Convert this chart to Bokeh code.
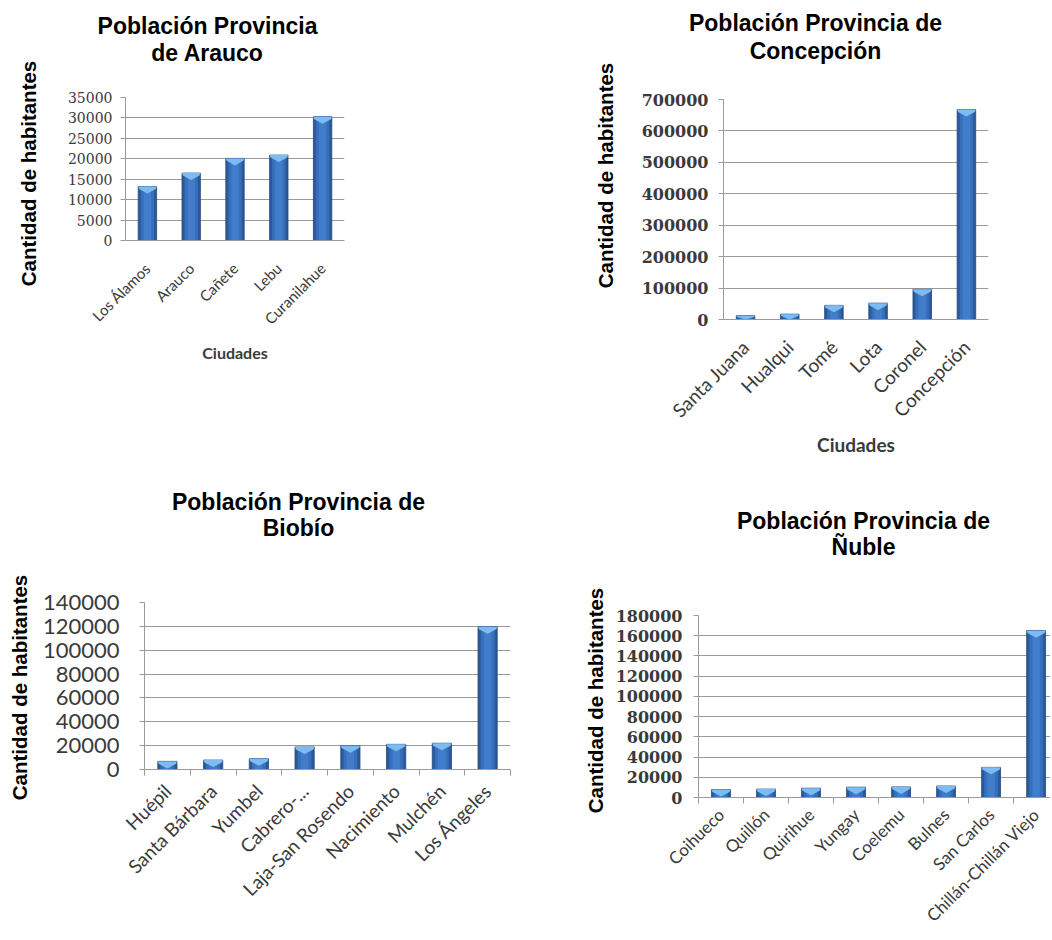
import numpy as np
from math import pi
from bokeh.plotting import figure
from bokeh.models import Range1d, FixedTicker, ColumnDataSource, NumeralTickFormatter
from bokeh.core.properties import value
from bokeh.layouts import column, row
from bokeh.embed import file_html
from bokeh.resources import INLINE

# ---------------- data ----------------
arauco_title = ["Población Provincia", "de Arauco"]
arauco_cities = ["Los Álamos", "Arauco", "Cañete", "Lebu", "Curanilahue"]
arauco_pop = [13200, 16500, 20100, 20900, 30300]
arauco_ticks = [0, 5000, 10000, 15000, 20000, 25000, 30000, 35000]

concepcion_title = ["Población Provincia de", "Concepción"]
concepcion_cities = ["Santa Juana", "Hualqui", "Tomé", "Lota", "Coronel", "Concepción"]
concepcion_pop = [12000, 17000, 45000, 52000, 96000, 668000]
concepcion_ticks = [0, 100000, 200000, 300000, 400000, 500000, 600000, 700000]

biobio_title = ["Población Provincia de", "Biobío"]
biobio_cities = ["Huépil", "Santa Bárbara", "Yumbel", "Cabrero-...", "Laja-San Rosendo",
                 "Nacimiento", "Mulchén", "Los Ángeles"]
biobio_pop = [6800, 7900, 9000, 18900, 20000, 21100, 22000, 119700]
biobio_ticks = [0, 20000, 40000, 60000, 80000, 100000, 120000, 140000]

nuble_title = ["Población Provincia de", "Ñuble"]
nuble_cities = ["Coihueco", "Quillón", "Quirihue", "Yungay", "Coelemu", "Bulnes",
                "San Carlos", "Chillán-Chillán Viejo"]
nuble_pop = [7900, 8300, 9200, 10200, 10500, 11400, 29800, 165000]
nuble_ticks = [0, 20000, 40000, 60000, 80000, 100000, 120000, 140000, 160000, 180000]

y_label = "Cantidad de habitantes"
x_label = "Ciudades"

GRID = "#9a9a9a"


def blank_fig(W, H):
    f = figure(width=W, height=H, x_range=Range1d(0, W), y_range=Range1d(0, H),
               output_backend="svg", toolbar_location=None, min_border=0,
               x_axis_location=None, y_axis_location=None, title=None)
    f.grid.visible = False
    f.outline_line_color = None
    f.background_fill_color = "white"
    f.border_fill_color = "white"
    return f


def make_chart(cities, pop, ticks, c, W, H):
    n = len(cities)
    xs = list(range(n))
    xend = c.get("xend", n - 0.5)
    p = figure(width=W, height=H, title=None,
               x_range=Range1d(-0.5, xend), y_range=Range1d(0, ticks[-1]),
               output_backend="svg", toolbar_location=None,
               min_border_left=c["bl"], min_border_right=c["br"],
               min_border_top=c["bt"], min_border_bottom=H - c["bt"] - c["fh"])
    p.outline_line_color = None
    p.background_fill_color = "white"
    p.border_fill_color = "white"

    # bars
    w = 0.42
    d = ticks[-1] * 7.0 / c["fh"]
    src = ColumnDataSource(dict(x=xs, top=pop))
    p.vbar(x="x", top="top", bottom=0, width=w, source=src,
           fill_color="#2a5a9c", line_color="#22477a", line_width=0.8)
    p.vbar(x="x", top="top", bottom=0, width=w * 0.72, source=src,
           fill_color="#376fba", line_color=None)
    p.vbar(x="x", top="top", bottom=0, width=w * 0.4, source=src,
           fill_color="#417dcb", line_color=None)
    cx, cy = [], []
    for x, t in zip(xs, pop):
        dd = min(d, t)
        cx.append([x - w / 2, x + w / 2, x + w / 2 - 0.02, x, x - w / 2 + 0.02])
        cy.append([t, t, t - dd * 0.35, t - dd, t - dd * 0.35])
    p.patches(cx, cy, fill_color="#7dbcf2", line_color=None)

    # y axis
    p.yaxis.ticker = FixedTicker(ticks=ticks)
    p.yaxis.formatter = NumeralTickFormatter(format="0")
    p.ygrid.ticker = FixedTicker(ticks=ticks)
    p.ygrid.grid_line_color = GRID
    p.xgrid.visible = False
    p.yaxis.axis_line_color = GRID
    p.yaxis.major_tick_line_color = GRID
    p.yaxis.major_tick_out = 5
    p.yaxis.major_tick_in = 0
    p.yaxis.minor_tick_line_color = None
    p.yaxis.major_label_standoff = c["ystd"]
    p.yaxis.major_label_text_font = c["yfont"]
    p.yaxis.major_label_text_font_size = c["ysize"]
    p.yaxis.major_label_text_font_style = c["ystyle"]
    p.yaxis.major_label_text_color = "#3a3a3a"

    # x axis
    p.xaxis.ticker = FixedTicker(ticks=xs, minor_ticks=[i - 0.5 for i in range(n + 1)])
    p.xaxis.major_label_overrides = {i: name for i, name in zip(xs, cities)}
    p.xaxis.major_label_orientation = pi / 4
    p.xaxis.major_tick_line_color = None
    p.xaxis.major_tick_out = 0
    p.xaxis.axis_line_color = GRID
    if c.get("xminor"):
        p.xaxis.minor_tick_line_color = GRID
        p.xaxis.minor_tick_out = 6
        p.xaxis.minor_tick_in = 0
    else:
        p.xaxis.minor_tick_line_color = None
    p.xaxis.major_label_standoff = c["xstd"]
    p.xaxis.major_label_text_font = "Lato"
    p.xaxis.major_label_text_font_size = c["xsize"]
    p.xaxis.major_label_text_color = "#3a3a3a"
    if c.get("xlabel"):
        p.xaxis.axis_label = x_label
        p.xaxis.axis_label_text_font = "Lato"
        p.xaxis.axis_label_text_font_size = c["xlsize"]
        p.xaxis.axis_label_text_font_style = "bold"
        p.xaxis.axis_label_text_color = "#3a3a3a"
        p.xaxis.axis_label_standoff = c["xlstd"]
    return p


def make_panel(title, cities, pop, ticks, c):
    W, H, wy, th = c["w"], c["h"], c["wy"], c["th"]
    # y-axis title strip
    yl = blank_fig(wy, H)
    ycx, ycy = c["ylab_pos"]
    yl.text(x=[ycx], y=[H - ycy], text=[y_label], angle=pi / 2,
            text_align="center", text_baseline="middle",
            text_font=value("Liberation Sans"), text_font_size=value("20.5px"),
            text_font_style=value("bold"), text_color="black")
    # chart title strip
    tf = blank_fig(W - wy, th)
    tcx, b1, b2 = c["title_pos"]
    src = ColumnDataSource(dict(x=[tcx - wy, tcx - wy], y=[th - b1, th - b2], text=title))
    tf.text(x="x", y="y", text="text", source=src, text_align="center",
            text_baseline="alphabetic", text_font=value("Liberation Sans"),
            text_font_size=value("23px"), text_font_style=value("bold"),
            text_color="black")
    ch = make_chart(cities, pop, ticks, c, W - wy, H - th)
    return row(column(yl), column(column(tf), column(ch)))


cA = dict(w=520, h=470, wy=50, th=76, bl=75, br=176, bt=21, fh=143,
          title_pos=(207, 25, 52), ylab_pos=(28, 173),
          ystd=8, yfont="DejaVu Serif", ysize="14px", ystyle="normal",
          xstd=21, xsize="15px", xlabel=True, xlsize="16px", xlstd=6)
cB = dict(w=530, h=470, wy=100, th=76, bl=103, br=62, bt=23, fh=220,
          title_pos=(295, 22, 50), ylab_pos=(85, 175),
          ystd=10, yfont="DejaVu Serif", ysize="16px", ystyle="bold",
          xstd=20, xsize="19px", xlabel=True, xlsize="19px", xlstd=0)
cC = dict(w=520, h=470, wy=36, th=100, bl=108, br=10, bt=32, fh=167,
          title_pos=(298, 31, 57), ylab_pos=(19, 217),
          ystd=20, yfont="Lato", ysize="22px", ystyle="normal",
          xstd=12, xsize="19px", xminor=True)
cD = dict(w=530, h=470, wy=88, th=100, bl=90, br=0, bt=45, fh=182,
          title_pos=(343, 50, 76), ylab_pos=(75, 230),
          ystd=11, yfont="DejaVu Serif", ysize="16px", ystyle="bold",
          xstd=8, xsize="17px", xminor=True, xend=7.32)

pA = make_panel(arauco_title, arauco_cities, arauco_pop, arauco_ticks, cA)
pB = make_panel(concepcion_title, concepcion_cities, concepcion_pop, concepcion_ticks, cB)
pC = make_panel(biobio_title, biobio_cities, biobio_pop, biobio_ticks, cC)
pD = make_panel(nuble_title, nuble_cities, nuble_pop, nuble_ticks, cD)

layout = column(row(pA, pB), row(pC, pD))
open("out.html", "w").write(file_html(layout, INLINE))
